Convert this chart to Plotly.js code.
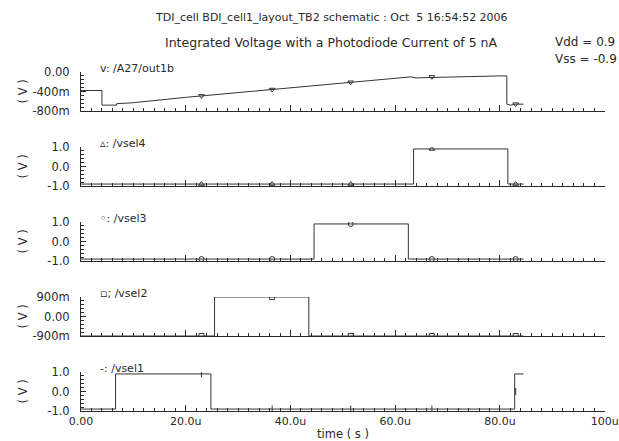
<!DOCTYPE html>
<html>
<head>
<meta charset="utf-8">
<script src="https://cdn.plot.ly/plotly-3.0.1.min.js"></script>
<style>html,body{margin:0;padding:0;background:#fff;}#chart{width:619px;height:441px;}</style>
</head>
<body>
<div id="chart"></div>
<script>
// ---- data (time in microseconds, voltage in volts) ----
const tOut1b = [0, 4, 4, 6.8, 6.8, 10, 20, 25, 30, 40, 44, 50, 60, 63, 64, 70, 75, 80, 81.3, 81.3, 82, 83, 84.5];
const vOut1b = [-0.38, -0.38, -0.68, -0.68, -0.65, -0.63, -0.52, -0.47, -0.42, -0.32, -0.28, -0.22, -0.13, -0.10, -0.12, -0.10, -0.09, -0.08, -0.08, -0.66, -0.68, -0.66, -0.66];

const tVsel4 = [0, 63.5, 63.5, 81.5, 81.5, 84.5];
const vVsel4 = [-0.9, -0.9, 0.9, 0.9, -0.9, -0.9];

const tVsel3 = [0, 44.5, 44.5, 62.5, 62.5, 84.5];
const vVsel3 = [-0.9, -0.9, 0.9, 0.9, -0.9, -0.9];

const tVsel2 = [0, 25.5, 25.5, 43.5, 43.5, 84.5];
const vVsel2 = [-0.9, -0.9, 0.9, 0.9, -0.9, -0.9];

const tVsel1 = [0, 6.6, 6.6, 24.8, 24.8, 82.8, 82.8, 84.5];
const vVsel1 = [-0.9, -0.9, 0.9, 0.9, -0.9, -0.9, 0.9, 0.9];

// identification markers placed along each waveform
const tMarks = [23, 36.5, 51.5, 67, 83];
const vMarksOut1b = [-0.49, -0.36, -0.21, -0.10, -0.66];
const vMarksVsel4 = [-0.9, -0.9, -0.9, 0.9, -0.9];
const vMarksVsel3 = [-0.9, -0.9, 0.9, -0.9, -0.9];
const vMarksVsel2 = [-0.9, 0.9, -0.9, -0.9, -0.9];
const vMarksVsel1 = [0.9, -0.9, -0.9, -0.9, 0.0];

const traceNames = ["v: /A27/out1b", "\u25b5: /vsel4", "\u25e6: /vsel3", "\u25ab; /vsel2", "-: /vsel1"];
const markSymbols = ["triangle-down-open", "triangle-up-open", "circle-open", "square-open", "line-ns-open"];

const xTickVals = [0, 20, 40, 60, 80, 100];
const xTickText = ["0.00", "20.0u", "40.0u", "60.0u", "80.0u", "100u"];

const yTickVals = [[0, -0.4, -0.8], [1, 0, -1], [1, 0, -1], [0.9, 0, -0.9], [1, 0, -1]];
const yTickText = [["0.00", "-400m", "-800m"], ["1.0", "0.0", "-1.0"], ["1.0", "0.0", "-1.0"], ["900m", "0.00", "-900m"], ["1.0", "0.0", "-1.0"]];
const yRanges = [[-0.8, 0], [-1, 1], [-1, 1], [-0.9, 0.9], [-1, 1]];

// ---- layout geometry ----
const W = 619, H = 441;
const mL = 81, mR = 14, mT = 72, mB = 30;
const plotH = H - mT - mB;
const panelTops = [72, 147, 222, 297, 372];
const panelBots = [111, 186, 261, 336, 411];
const frac = px => (H - mB - px) / plotH;
const xfrac = px => (px - mL) / (W - mL - mR);

const FONT = "DejaVu Sans, sans-serif";
const INK = "#2a2a2a";

const series = [[tOut1b, vOut1b], [tVsel4, vVsel4], [tVsel3, vVsel3], [tVsel2, vVsel2], [tVsel1, vVsel1]];
const markVals = [vMarksOut1b, vMarksVsel4, vMarksVsel3, vMarksVsel2, vMarksVsel1];

const data = [];
series.forEach((s, i) => {
  const xa = i === 0 ? "x" : "x" + (i + 1);
  const ya = i === 0 ? "y" : "y" + (i + 1);
  data.push({
    x: s[0], y: s[1], type: "scatter", mode: "lines", xaxis: xa, yaxis: ya,
    line: {color: "#333", width: 1}, hoverinfo: "skip", showlegend: false
  });
  data.push({
    x: tMarks, y: markVals[i], type: "scatter", mode: "markers", xaxis: xa, yaxis: ya,
    marker: {symbol: markSymbols[i], size: 5, color: "#333", line: {width: 1, color: "#333"}},
    hoverinfo: "skip", showlegend: false
  });
});

const xMinor = [];
for (let v = 0; v <= 100; v += 2) xMinor.push(v);

const layout = {
  width: W, height: H,
  margin: {l: mL, r: mR, t: mT, b: mB},
  paper_bgcolor: "#fff", plot_bgcolor: "#fff",
  font: {family: FONT, size: 11, color: INK},
  showlegend: false,
  annotations: []
};

for (let i = 0; i < 5; i++) {
  const xa = i === 0 ? "xaxis" : "xaxis" + (i + 1);
  const ya = i === 0 ? "yaxis" : "yaxis" + (i + 1);
  const yMinor = [];
  const step = (yRanges[i][1] - yRanges[i][0]) / 10;
  for (let k = 0; k <= 10; k++) yMinor.push(yRanges[i][0] + k * step);
  layout[xa] = {
    domain: [0, 1], range: [0, 100.05], anchor: i === 0 ? "y" : "y" + (i + 1),
    showgrid: false, zeroline: false, showline: true, linecolor: INK, linewidth: 1,
    ticks: "inside", ticklen: 6, tickcolor: INK, tickwidth: 1,
    tickmode: "array", tickvals: xTickVals, ticktext: xTickText,
    showticklabels: i === 4, ticklabeloverflow: "allow",
    tickfont: {family: FONT, size: 11, color: INK},
    minor: {tickmode: "array", tickvals: xMinor, ticks: "inside", ticklen: 3, tickcolor: INK, showgrid: false}
  };
  if (i > 0) layout[xa].matches = "x";
  if (i === 4) layout[xa].title = {text: "time ( s )", font: {family: FONT, size: 11.5, color: INK}, standoff: 3};
  layout[ya] = {
    domain: [frac(panelBots[i]), frac(panelTops[i])], range: yRanges[i],
    anchor: i === 0 ? "x" : "x" + (i + 1),
    showgrid: false, zeroline: false, showline: true, linecolor: INK, linewidth: 1,
    ticks: "inside", ticklen: 5, tickcolor: INK, tickwidth: 1,
    tickmode: "array", tickvals: yTickVals[i], ticktext: yTickText[i],
    tickfont: {family: FONT, size: 11.5, color: INK},
    ticklabelstandoff: 8,
    minor: {tickmode: "array", tickvals: yMinor, ticks: "inside", ticklen: 3, tickcolor: INK, showgrid: false}
  };
  layout.annotations.push({
    text: traceNames[i], xref: "paper", yref: "paper",
    x: xfrac(98), y: frac(panelTops[i] - 4), xanchor: "left", yanchor: "middle",
    showarrow: false, font: {family: FONT, size: 11, color: INK}
  });
  layout.annotations.push({
    text: "( V )", xref: "paper", yref: "paper", textangle: -90,
    x: xfrac(22), y: frac((panelTops[i] + panelBots[i]) / 2), xanchor: "center", yanchor: "middle",
    showarrow: false, font: {family: FONT, size: 11.5, color: INK}
  });
}

layout.annotations.push(
  {text: "TDI_cell BDI_cell1_layout_TB2 schematic : Oct  5 16:54:52 2006", xref: "paper", yref: "paper",
   x: xfrac(331), y: frac(18), xanchor: "center", yanchor: "middle", showarrow: false,
   font: {family: FONT, size: 11, color: INK}},
  {text: "Integrated Voltage with a Photodiode Current of 5 nA", xref: "paper", yref: "paper",
   x: xfrac(331), y: frac(42), xanchor: "center", yanchor: "middle", showarrow: false,
   font: {family: FONT, size: 12.5, color: INK}},
  {text: "Vdd = 0.9", xref: "paper", yref: "paper",
   x: xfrac(553), y: frac(42), xanchor: "left", yanchor: "middle", showarrow: false,
   font: {family: FONT, size: 12, color: INK}},
  {text: "Vss = -0.9", xref: "paper", yref: "paper",
   x: xfrac(553), y: frac(59), xanchor: "left", yanchor: "middle", showarrow: false,
   font: {family: FONT, size: 12, color: INK}}
);

Plotly.newPlot("chart", data, layout, {staticPlot: true, displayModeBar: false});
</script>
</body>
</html>
